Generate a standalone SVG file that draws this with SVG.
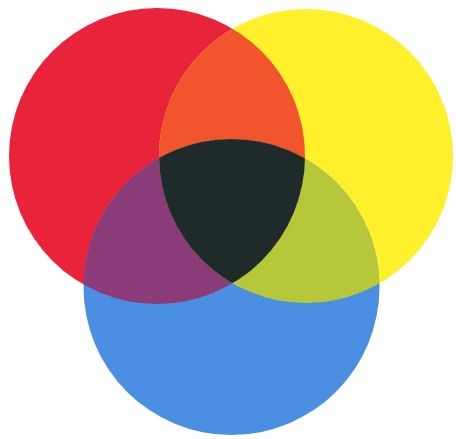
<svg xmlns="http://www.w3.org/2000/svg" width="456" height="439" viewBox="0 0 456 439">
  <defs>
    <clipPath id="clipRed"><circle cx="157" cy="156" r="148"/></clipPath>
    <clipPath id="clipYellow"><circle cx="306" cy="156" r="147"/></clipPath>
    <clipPath id="clipBlue"><circle cx="231.5" cy="287" r="148"/></clipPath>
  </defs>
  <rect width="456" height="439" fill="#ffffff"/>
  <g id="red"><circle cx="157" cy="156" r="148" fill="#E9243A"/></g>
  <g id="yellow"><circle cx="306" cy="156" r="147" fill="#FFF02C"/></g>
  <g id="blue"><circle cx="231.5" cy="287" r="148" fill="#4A8FE2"/></g>
  <g id="orange" clip-path="url(#clipRed)"><circle cx="306" cy="156" r="147" fill="#F2552D"/></g>
  <g id="purple" clip-path="url(#clipRed)"><circle cx="231.5" cy="287" r="148" fill="#8B3B78"/></g>
  <g id="green" clip-path="url(#clipYellow)"><circle cx="231.5" cy="287" r="148" fill="#B6C83A"/></g>
  <g id="black" clip-path="url(#clipRed)">
    <g clip-path="url(#clipYellow)"><circle cx="231.5" cy="287" r="148" fill="#1F2B2B"/></g>
  </g>
</svg>
